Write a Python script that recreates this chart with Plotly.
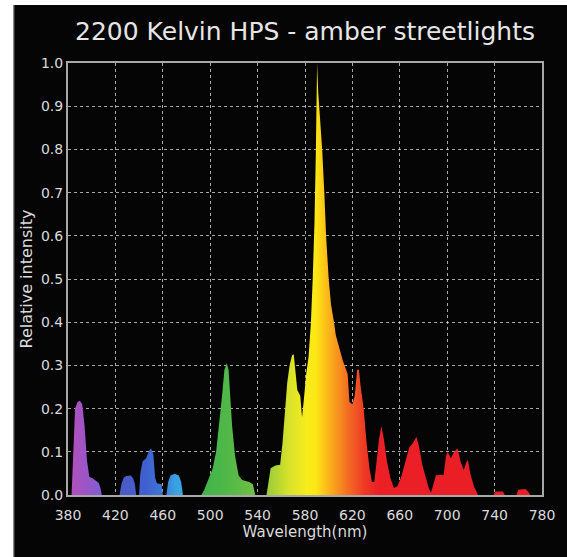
import plotly.graph_objects as go

# ---- data ----
wavelength_nm = [
    380, 383, 384.5, 386, 388, 390, 392, 394, 396, 398, 401, 404, 406, 407.5, 408.5,
    423.5, 425, 427, 429, 433, 435, 436.5, 437.5,
    440, 441, 443, 446, 448, 450, 452, 453.5, 455, 459, 460,
    463, 464.5, 466.5, 470, 473.5, 475.5, 477,
    492.5, 495, 499, 502, 505, 507.5, 510, 512, 514, 515.5, 517, 518.5, 521, 524, 527, 533, 536, 538,
    547.5, 549, 551, 555, 559, 561, 563, 565, 567, 569, 570.5, 572, 573.5, 576, 577.5,
    579, 581, 583, 585, 586.5, 588, 589.2, 590.2, 591.2, 592.5, 594.5, 596.3, 597.8, 600,
    602, 604.5, 606, 608, 612, 616, 617.5, 620, 622, 624, 625.5, 627, 629.5, 632, 634.5,
    636.5, 638.5, 640.5, 642.5, 644.5, 646.5, 649, 652, 655, 658, 661, 664, 668, 671, 674,
    676, 679, 682, 684.5, 686.3, 688.5, 690.5, 697, 699, 700.5, 703, 706, 708.7, 711.5,
    714, 716, 717.5, 719.5, 722.5, 726,
    739, 740.5, 747, 748.5, 758.5, 760, 766, 769, 770, 780,
]
relative_intensity = [
    0, 0, 0.1, 0.2, 0.215, 0.218, 0.21, 0.16, 0.08, 0.042, 0.038, 0.033, 0.028, 0.015, 0,
    0, 0.025, 0.04, 0.044, 0.045, 0.038, 0.025, 0,
    0, 0.05, 0.078, 0.085, 0.1, 0.108, 0.095, 0.04, 0.027, 0.025, 0,
    0, 0.03, 0.045, 0.049, 0.045, 0.03, 0,
    0, 0.012, 0.04, 0.06, 0.1, 0.16, 0.23, 0.29, 0.305, 0.29, 0.22, 0.16, 0.09, 0.045, 0.035, 0.03, 0.025, 0,
    0, 0.03, 0.062, 0.068, 0.07, 0.12, 0.19, 0.26, 0.3, 0.323, 0.326, 0.28, 0.243, 0.23, 0.18,
    0.22, 0.28, 0.32, 0.4, 0.5, 0.63, 0.8, 1.0, 0.93, 0.88, 0.8, 0.7, 0.6, 0.5,
    0.44, 0.4, 0.37, 0.35, 0.31, 0.28, 0.215, 0.21, 0.23, 0.29, 0.29, 0.25, 0.2, 0.12, 0.06,
    0.03, 0.03, 0.08, 0.13, 0.16, 0.13, 0.08, 0.04, 0.016, 0.02, 0.04, 0.07, 0.11, 0.12, 0.135,
    0.115, 0.07, 0.04, 0.015, 0.005, 0.03, 0.046, 0.047, 0.09, 0.1, 0.085, 0.1, 0.108, 0.075,
    0.058, 0.075, 0.081, 0.05, 0.02, 0,
    0, 0.008, 0.008, 0, 0, 0.012, 0.014, 0.006, 0, 0,
]
x_ticks = [380, 420, 460, 500, 540, 580, 620, 660, 700, 740, 780]
y_ticks = [0.0, 0.1, 0.2, 0.3, 0.4, 0.5, 0.6, 0.7, 0.8, 0.9, 1.0]

# spectral colours by wavelength
spectrum_nm = [380, 395, 408, 425, 445, 460, 470, 480, 493, 515, 535, 550, 565, 580, 588, 595, 605, 615, 628, 640, 780]
spectrum_col = ["#b64eba", "#9c55c8", "#7f5ed2", "#4c5ac6", "#3f5fcf", "#3d78d8", "#3aa0e2", "#38aeda",
                "#3fb54a", "#52b848", "#6fbf44", "#a4cf38", "#d6e22a", "#f7ec1c", "#fde613", "#fcc419",
                "#f8981e", "#f36c23", "#ee3b25", "#ec1f26", "#e81e26"]

lo, hi = x_ticks[0], x_ticks[-1]
colorscale = [[(w - lo) / (hi - lo), c] for w, c in zip(spectrum_nm, spectrum_col)]

fig = go.Figure()
fig.add_trace(go.Scatter(
    x=wavelength_nm, y=relative_intensity, mode="lines",
    line=dict(width=0, color="rgba(0,0,0,0)"),
    fill="tozeroy",
    fillgradient=dict(type="horizontal", colorscale=colorscale, start=lo, stop=hi),
    hoverinfo="x+y", showlegend=False,
))

W, H = 567, 557
L, R, T, B = 68, 22, 63, 62
pw, ph = W - L - R, H - T - B

def px_x(p):
    return (p - L) / pw

def px_y(p):
    return (H - B - p) / ph

axis_font = dict(family="DejaVu Sans", size=14, color="#dadada")
grid_col = "rgba(220,220,220,0.75)"

fig.update_layout(
    width=W, height=H,
    margin=dict(l=L, r=R, t=T, b=B),
    paper_bgcolor="#050505", plot_bgcolor="#050505",
    title=dict(text="2200 Kelvin HPS - amber streetlights",
               font=dict(family="DejaVu Sans", size=25, color="#e6e6e6"),
               x=0.5, xref="paper", xanchor="center",
               y=1 - 31 / H, yref="container", yanchor="middle"),
    xaxis=dict(range=[lo, hi], tickvals=x_ticks, ticktext=[str(v) for v in x_ticks],
               showgrid=True, gridcolor=grid_col, griddash="3px,3px", gridwidth=1,
               showline=True, linecolor="#a8a8a8", linewidth=2, mirror=True,
               zeroline=False, ticks="", tickfont=axis_font, ticklabelstandoff=6,
               title=dict(text="Wavelength(nm)", font=dict(family="DejaVu Sans", size=15, color="#dadada"), standoff=0)),
    yaxis=dict(range=[0, 1.0], tickvals=y_ticks, ticktext=[f"{v:.1f}" for v in y_ticks],
               showgrid=True, gridcolor=grid_col, griddash="3px,3px", gridwidth=1,
               showline=True, linecolor="#a8a8a8", linewidth=2, mirror=True,
               zeroline=False, ticks="", tickfont=axis_font,
               title=dict(text="Relative intensity", font=dict(family="DejaVu Sans", size=16, color="#dadada"), standoff=4)),
    shapes=[
        dict(type="rect", xref="paper", yref="paper", x0=px_x(-5), x1=px_x(13), y0=px_y(H + 5), y1=px_y(-5),
             fillcolor="white", line=dict(width=0), layer="above"),
        dict(type="rect", xref="paper", yref="paper", x0=px_x(-5), x1=px_x(W + 5), y0=px_y(5), y1=px_y(-5),
             fillcolor="white", line=dict(width=0), layer="above"),
        dict(type="line", xref="paper", yref="paper", x0=px_x(13.5), x1=px_x(13.5), y0=px_y(H + 5), y1=px_y(5),
             line=dict(color="#9a9a9a", width=1), layer="above"),
    ],
)

fig.write_html(
    "out.html",
    config={"displayModeBar": False},
    post_script="document.body.style.margin='0';document.body.style.padding='0';document.body.style.overflow='hidden';",
)
